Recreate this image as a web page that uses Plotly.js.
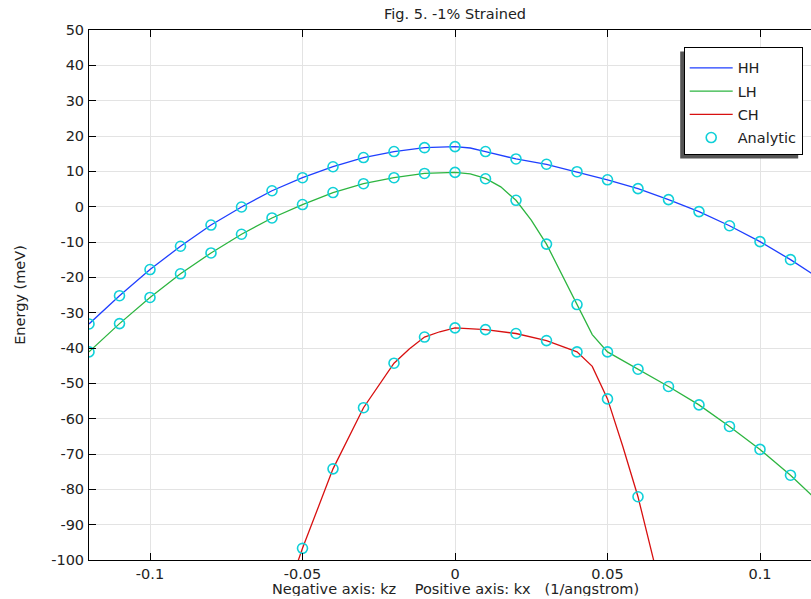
<!DOCTYPE html>
<html>
<head>
<meta charset="utf-8">
<script src="https://cdn.plot.ly/plotly-3.0.1.min.js"></script>
<style>
html,body{margin:0;padding:0;overflow:hidden;background:#fff;}
#chart{width:830px;height:599px;}
</style>
</head>
<body>
<div id="chart"></div>
<script>
// ---- Data ----
const kxMarks = [-0.12,-0.11,-0.10,-0.09,-0.08,-0.07,-0.06,-0.05,-0.04,-0.03,-0.02,-0.01,0,0.01,0.02,0.03,0.04,0.05,0.06,0.07,0.08,0.09,0.10,0.11];
const hhAnalytic = [-33.2,-25.2,-17.8,-11.2,-5.2,-0.1,4.5,8.2,11.3,13.9,15.6,16.7,17.0,15.6,13.5,12.0,9.9,7.6,5.1,2.0,-1.4,-5.4,-9.9,-15.0];
const lhAnalytic = [-41.1,-33.1,-25.7,-19.0,-13.1,-7.8,-3.2,0.6,4.0,6.5,8.2,9.4,9.7,7.9,1.8,-10.6,-27.7,-41.1,-46.0,-50.9,-56.1,-62.2,-68.7,-76.0];
const kxChMarks = [-0.05,-0.04,-0.03,-0.02,-0.01,0,0.01,0.02,0.03,0.04,0.05,0.06];
const chAnalytic = [-96.7,-74.2,-56.9,-44.3,-36.9,-34.3,-34.8,-35.9,-37.9,-41.1,-54.4,-82.1];

const hhLineX = [-0.12,-0.11,-0.10,-0.09,-0.08,-0.07,-0.06,-0.05,-0.04,-0.03,-0.02,-0.01,0,0.005,0.01,0.02,0.03,0.04,0.05,0.06,0.07,0.08,0.09,0.10,0.11,0.12];
const hhLineY = [-33.2,-25.2,-17.8,-11.2,-5.2,-0.1,4.5,8.2,11.3,13.9,15.6,16.7,17.0,16.6,15.6,13.5,12.0,9.9,7.6,5.1,2.0,-1.4,-5.4,-9.9,-15.0,-20.6];
const lhLineX = [-0.12,-0.11,-0.10,-0.09,-0.08,-0.07,-0.06,-0.05,-0.04,-0.03,-0.02,-0.01,0,0.005,0.01,0.015,0.02,0.025,0.03,0.035,0.04,0.045,0.05,0.06,0.07,0.08,0.09,0.10,0.11,0.12];
const lhLineY = [-41.1,-33.1,-25.7,-19.0,-13.1,-7.8,-3.2,0.6,4.0,6.5,8.2,9.4,9.7,9.3,8.0,5.6,1.8,-3.8,-10.6,-19.0,-27.7,-36.2,-41.1,-46.0,-50.9,-56.1,-62.2,-68.7,-76.0,-84.2];
const chLineX = [-0.06,-0.055,-0.05,-0.04,-0.03,-0.02,-0.015,-0.01,-0.005,0,0.01,0.02,0.03,0.04,0.045,0.05,0.055,0.06,0.065,0.07];
const chLineY = [-122,-109,-96.7,-74.2,-56.9,-44.3,-40.3,-36.9,-35.4,-34.3,-34.8,-35.9,-37.9,-41.1,-45.2,-54.4,-67.8,-82.1,-99.6,-118];

const xTickVals = [-0.1,-0.05,0,0.05,0.1];
const xTickText = ['-0.1','-0.05','0','0.05','0.1'];
const yTickVals = [-100,-90,-80,-70,-60,-50,-40,-30,-20,-10,0,10,20,30,40,50];
const yTickText = ['-100','-90','-80','-70','-60','-50','-40','-30','-20','-10','0','10','20','30','40','50'];
const xTitleText = 'Negative axis: kz\u00a0\u00a0\u00a0\u00a0Positive axis: kx\u00a0\u00a0\u00a0(1/angstrom)';

// ---- Traces ----
const FONT = 'DejaVu Sans, sans-serif';
const FS = 14.5;
const markX = kxMarks.concat(kxMarks, kxChMarks);
const markY = hhAnalytic.concat(lhAnalytic, chAnalytic);

const traces = [
  {x: hhLineX, y: hhLineY, mode: 'lines', name: 'HH', line: {color: '#1f3fff', width: 1.3}, legendgroup: 'a'},
  {x: lhLineX, y: lhLineY, mode: 'lines', name: 'LH', line: {color: '#2db540', width: 1.3}, legendgroup: 'b'},
  {x: chLineX, y: chLineY, mode: 'lines', name: 'CH', line: {color: '#d81010', width: 1.3}, legendgroup: 'c'},
  {x: markX, y: markY, mode: 'markers', name: 'Analytic', legendgroup: 'd',
   marker: {symbol: 'circle-open', size: 10, color: '#10d0d8', line: {width: 1.6, color: '#10d0d8'}}}
];

const layout = {
  width: 830, height: 599,
  margin: {l: 89, r: 9, t: 30, b: 39},
  paper_bgcolor: '#fff', plot_bgcolor: '#fff',
  font: {family: FONT, size: FS, color: '#222'},
  title: {text: 'Fig. 5. -1% Strained', font: {family: FONT, size: FS, color: '#222'},
          xref: 'paper', x: 0.5, xanchor: 'center', yref: 'container', y: 0.977, yanchor: 'middle'},
  xaxis: {
    range: [-0.12, 0.12], tickvals: xTickVals, ticktext: xTickText,
    ticks: 'inside', ticklen: 7, tickcolor: '#000', tickwidth: 1,
    showline: true, linecolor: '#000', linewidth: 1, mirror: 'ticks',
    showgrid: true, gridcolor: '#e3e3e3', zeroline: false,
    tickfont: {family: FONT, size: FS, color: '#222'},
    ticklabelstandoff: 1
  },
  yaxis: {
    range: [-100, 50], tickvals: yTickVals, ticktext: yTickText,
    ticks: 'inside', ticklen: 7, tickcolor: '#000', tickwidth: 1,
    showline: true, linecolor: '#000', linewidth: 1, mirror: 'ticks',
    showgrid: true, gridcolor: '#e3e3e3', zeroline: false,
    tickfont: {family: FONT, size: FS, color: '#222'},
    ticklabelstandoff: 1,
    title: {text: 'Energy (meV)', font: {family: FONT, size: FS, color: '#222'}, standoff: 22}
  },
  annotations: [
    {text: xTitleText, xref: 'paper', yref: 'paper', x: 0.5, y: -0.054,
     xanchor: 'center', yanchor: 'middle', showarrow: false, height: 14, valign: 'middle',
     font: {family: FONT, size: FS, color: '#222'}}
  ],
  showlegend: true,
  legend: {x: 0.975, xanchor: 'right', y: 0.968, yanchor: 'top',
           bgcolor: '#fff', bordercolor: '#000', borderwidth: 1,
           font: {family: FONT, size: FS, color: '#222'},
           title: {text: '\u00a0', font: {size: 3}},
           itemwidth: 43, entrywidth: 69,
           traceorder: 'grouped', tracegroupgap: 1.4}
};

Plotly.newPlot('chart', traces, layout, {displayModeBar: false, staticPlot: true}).then(function (gd) {
  // drop shadow behind the legend box, offset 4px left and 4px down
  const bg = gd.querySelector('.legend .bg');
  if (!bg) return;
  const rb = bg.getBoundingClientRect();
  const gb = gd.getBoundingClientRect();
  const fl = gd._fullLayout;
  const l = fl.margin.l, t = fl.margin.t, w = fl._size.w, h = fl._size.h;
  const px0 = rb.left - gb.left - 4, px1 = rb.right - gb.left - 4;
  const py0 = rb.top - gb.top + 4, py1 = rb.bottom - gb.top + 4;
  Plotly.relayout(gd, {shapes: [{
    type: 'rect', xref: 'paper', yref: 'paper',
    x0: (px0 - l) / w, x1: (px1 - l) / w,
    y0: 1 - (py1 - t) / h, y1: 1 - (py0 - t) / h,
    fillcolor: '#555', line: {width: 0}, layer: 'above'
  }]});
});
</script>
</body>
</html>
